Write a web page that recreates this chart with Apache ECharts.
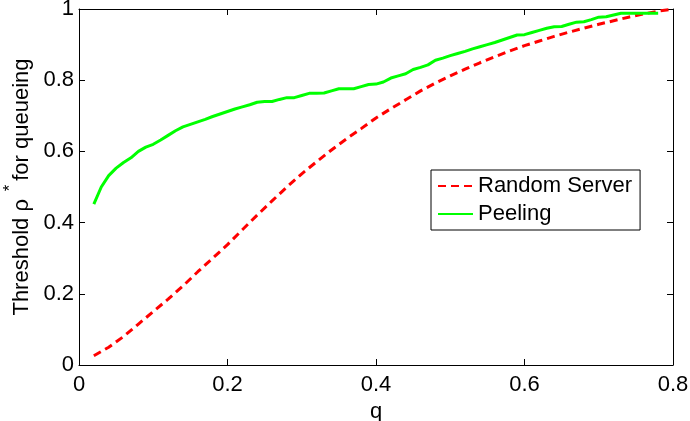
<!DOCTYPE html>
<html>
<head>
<meta charset="utf-8">
<script src="https://cdn.jsdelivr.net/npm/echarts@6/dist/echarts.min.js"></script>
<style>
html,body{margin:0;padding:0;background:#fff;}
#chart{width:690px;height:421px;}
</style>
</head>
<body>
<div id="chart"></div>
<script>
const xTicks = [0, 0.2, 0.4, 0.6, 0.8];
const yTicks = [0, 0.2, 0.4, 0.6, 0.8, 1];

const seriesNames = ['Random Server', 'Peeling'];

const qRandom = [0.02,0.04,0.06,0.08,0.10,0.12,0.14,0.16,0.18,0.20,0.22,0.24,0.26,0.28,0.30,0.32,0.34,0.36,0.38,0.40,
  0.42,0.44,0.46,0.48,0.50,0.52,0.54,0.56,0.58,0.60,0.62,0.64,0.66,0.68,0.70,0.72,0.74,0.76,0.78,0.80];
const rhoRandom = [0.026,0.05,0.08,0.115,0.15,0.185,0.222,0.262,0.300,0.338,0.380,0.421,0.461,0.500,0.537,0.571,0.604,0.635,0.664,0.694,
  0.720,0.745,0.770,0.792,0.812,0.831,0.849,0.866,0.882,0.897,0.910,0.923,0.935,0.946,0.957,0.967,0.977,0.986,0.994,1.0];

const qPeeling = [0.02,0.03,0.04,0.05,0.06,0.07,0.08,0.09,0.10,0.11,0.12,0.13,0.14,0.15,0.16,0.17,0.18,0.19,0.20,
  0.21,0.22,0.23,0.24,0.25,0.26,0.27,0.28,0.29,0.30,0.31,0.32,0.33,0.34,0.35,0.36,0.37,0.38,0.39,0.40,
  0.41,0.42,0.43,0.44,0.45,0.46,0.47,0.48,0.49,0.50,0.51,0.52,0.53,0.54,0.55,0.56,0.57,0.58,0.59,0.60,
  0.61,0.62,0.63,0.64,0.65,0.66,0.67,0.68,0.69,0.70,0.71,0.72,0.73,0.74,0.75,0.76,0.77,0.78];
const rhoPeeling = [0.452,0.500,0.532,0.553,0.569,0.582,0.600,0.612,0.620,0.632,0.645,0.658,0.669,0.676,0.683,0.690,0.698,0.705,0.712,
  0.719,0.725,0.731,0.738,0.740,0.740,0.746,0.751,0.751,0.757,0.763,0.763,0.764,0.770,0.776,0.776,0.776,0.782,0.788,0.789,
  0.795,0.806,0.812,0.818,0.830,0.836,0.843,0.856,0.862,0.869,0.875,0.881,0.888,0.894,0.900,0.906,0.913,0.920,0.927,0.928,
  0.934,0.940,0.946,0.950,0.951,0.957,0.963,0.964,0.970,0.977,0.978,0.983,0.988,0.988,0.988,0.988,0.988,0.988];

const FONT = 'Liberation Sans, Arial, Helvetica, sans-serif';
const FS = 22;

function pairs(xs, ys){ return xs.map((x,i)=>[x, ys[i]]); }

const chart = echarts.init(document.getElementById('chart'), null, {renderer:'canvas'});

const axisLineStyle = {show:true, onZero:false, lineStyle:{color:'#000', width:1}};
const tickStyle = {show:true, inside:true, length:6, lineStyle:{color:'#000', width:1}};

chart.setOption({
  animation:false,
  backgroundColor:'#fff',
  grid:{left:79, right:17, top:9, bottom:56, containLabel:false, outerBoundsMode:'none'},
  legend:{
    orient:'vertical', left:431, top:170,
    data:seriesNames,
    backgroundColor:'#fff', borderColor:'#000', borderWidth:1,
    padding:[5,8,5,6], itemGap:6, itemWidth:35, itemHeight:14,
    itemStyle:{opacity:0, borderWidth:0},
    textStyle:{fontFamily:FONT, fontSize:FS, color:'#000'}
  },
  xAxis:[{
    type:'value', min:0, max:0.8, interval:0.2, position:'bottom',
    name:'q', nameLocation:'middle', nameGap:34,
    nameTextStyle:{fontFamily:FONT, fontSize:FS, color:'#000'},
    axisLine:axisLineStyle, axisTick:tickStyle, splitLine:{show:false},
    axisLabel:{fontFamily:FONT, fontSize:FS, color:'#000', margin:9,
      formatter:function(v){ const r=Math.round(v*10)/10; return xTicks.indexOf(r) >= 0 ? String(r) : ''; }}
  },{
    type:'value', min:0, max:0.8, interval:0.2, position:'top',
    axisLine:axisLineStyle, axisTick:tickStyle, axisLabel:{show:false}, splitLine:{show:false}
  }],
  yAxis:[{
    type:'value', min:0, max:1, interval:0.2, position:'left',
    name:'Threshold ρ   for queueing', nameLocation:'middle', nameGap:46,
    nameTextStyle:{fontFamily:FONT, fontSize:22, color:'#000'},
    axisLine:axisLineStyle, axisTick:tickStyle, splitLine:{show:false},
    axisLabel:{fontFamily:FONT, fontSize:FS, color:'#000', margin:5,
      formatter:function(v){ const r=Math.round(v*10)/10; return yTicks.indexOf(r) >= 0 ? String(r) : ''; }}
  },{
    type:'value', min:0, max:1, interval:0.2, position:'right',
    axisLine:axisLineStyle, axisTick:tickStyle, axisLabel:{show:false}, splitLine:{show:false}
  }],
  graphic:[{
    type:'text', x:10, y:188, rotation:Math.PI/2,
    style:{text:'*', fontFamily:FONT, fontSize:17, fill:'#000', textAlign:'center', textVerticalAlign:'middle'}
  }],
  series:[{
    name:seriesNames[0], type:'line', data:pairs(qRandom, rhoRandom),
    showSymbol:false, symbol:'none', smooth:false,
    lineStyle:{color:'#ff0000', width:3, type:[8,5]},
    itemStyle:{color:'#ff0000'}
  },{
    name:seriesNames[1], type:'line', data:pairs(qPeeling, rhoPeeling),
    showSymbol:false, symbol:'none', smooth:false,
    lineStyle:{color:'#00ff00', width:3},
    itemStyle:{color:'#00ff00'}
  }]
});
</script>
</body>
</html>
